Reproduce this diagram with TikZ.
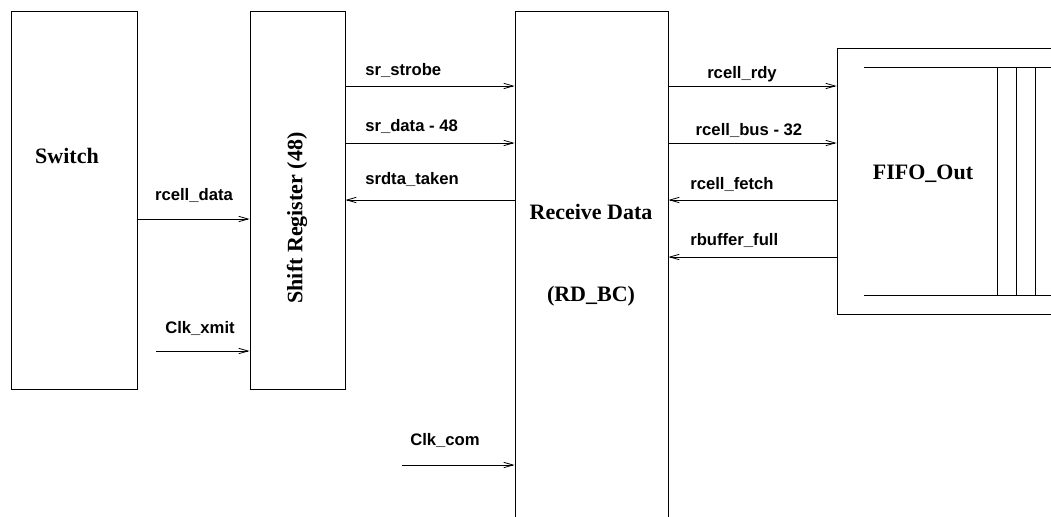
\documentclass[tikz,border=0pt]{standalone}
\usepackage{fontspec}
\setmainfont{Liberation Serif}
\setsansfont{Liberation Sans}
\usetikzlibrary{arrows.meta,positioning}
\tikzset{
  block/.style={draw, line width=0.7pt, rectangle, inner sep=0pt},
  title/.style={font=\fontsize{16.5}{18}\selectfont\bfseries},
  sig/.style={line width=0.6pt, -{Straight Barb[length=7pt,width=4pt]}},
  siglabel/.style={font=\sffamily\bfseries\fontsize{12.5}{14}\selectfont, inner sep=0pt}
}
\begin{document}
\begin{tikzpicture}[x=0.75pt,y=-0.75pt]
  \useasboundingbox (0,0) rectangle (1051,517);
  \clip (0,0) rectangle (1051,517);
  % blocks
  \node[block, minimum width=94.5pt, minimum height=283.5pt] (switch) at (74,200) {};
  \node[block, minimum width=71.25pt, minimum height=283.5pt] (shreg) at (297.5,200) {};
  \node[block, minimum width=114.75pt, minimum height=389.25pt] (rdbc) at (591.5,270.5) {};
  \node[block, minimum width=174.75pt, minimum height=199.5pt] (fifo) at (953.5,181) {};
  % block titles
  \node[title] at (67,156) {Switch};
  \node[title, rotate=90] at (297,218) {Shift Register (48)};
  \node[title] at (591,212) {Receive Data};
  \node[title] at (591,296) {(RD\_BC)};
  \node[title] at (923,174) {FIFO\_Out};
  % fifo stack
  \draw[line width=0.6pt] (864,67) -- (1060,67);
  \draw[line width=0.6pt] (864,295) -- (1060,295);
  \foreach \xx in {997,1016,1035}
    \draw[line width=0.6pt] (\xx,67) -- (\xx,295);
  % free ends
  \coordinate (xmit) at (156,351);
  \coordinate (com) at (402,465);
  % switch -> shift register
  \draw[sig] (switch.east |- 0,219) -- (shreg.west |- 0,219);
  \node[siglabel] at (194,195) {rcell\_data};
  \draw[sig] (xmit) -- (shreg.west |- xmit);
  \node[siglabel] at (200,328) {Clk\_xmit};
  % shift register <-> receive data
  \draw[sig] (shreg.east |- 0,86) -- (rdbc.west |- 0,86);
  \node[siglabel, anchor=west] at (365,70) {sr\_strobe};
  \draw[sig] (shreg.east |- 0,143) -- (rdbc.west |- 0,143);
  \node[siglabel, anchor=west] at (365,126) {sr\_data - 48};
  \draw[sig] (rdbc.west |- 0,200) -- (shreg.east |- 0,200);
  \node[siglabel, anchor=west] at (365,179) {srdta\_taken};
  \draw[sig] (com) -- (rdbc.west |- com);
  \node[siglabel, anchor=west] at (410,440) {Clk\_com};
  % receive data <-> fifo
  \draw[sig] (rdbc.east |- 0,86) -- (fifo.west |- 0,86);
  \node[siglabel] at (742,74) {rcell\_rdy};
  \draw[sig] (rdbc.east |- 0,143) -- (fifo.west |- 0,143);
  \node[siglabel] at (749,130) {rcell\_bus - 32};
  \draw[sig] (fifo.west |- 0,200) -- (rdbc.east |- 0,200);
  \node[siglabel, anchor=west] at (690,184) {rcell\_fetch};
  \draw[sig] (fifo.west |- 0,257) -- (rdbc.east |- 0,257);
  \node[siglabel, anchor=west] at (690,240) {rbuffer\_full};
\end{tikzpicture}
\end{document}
